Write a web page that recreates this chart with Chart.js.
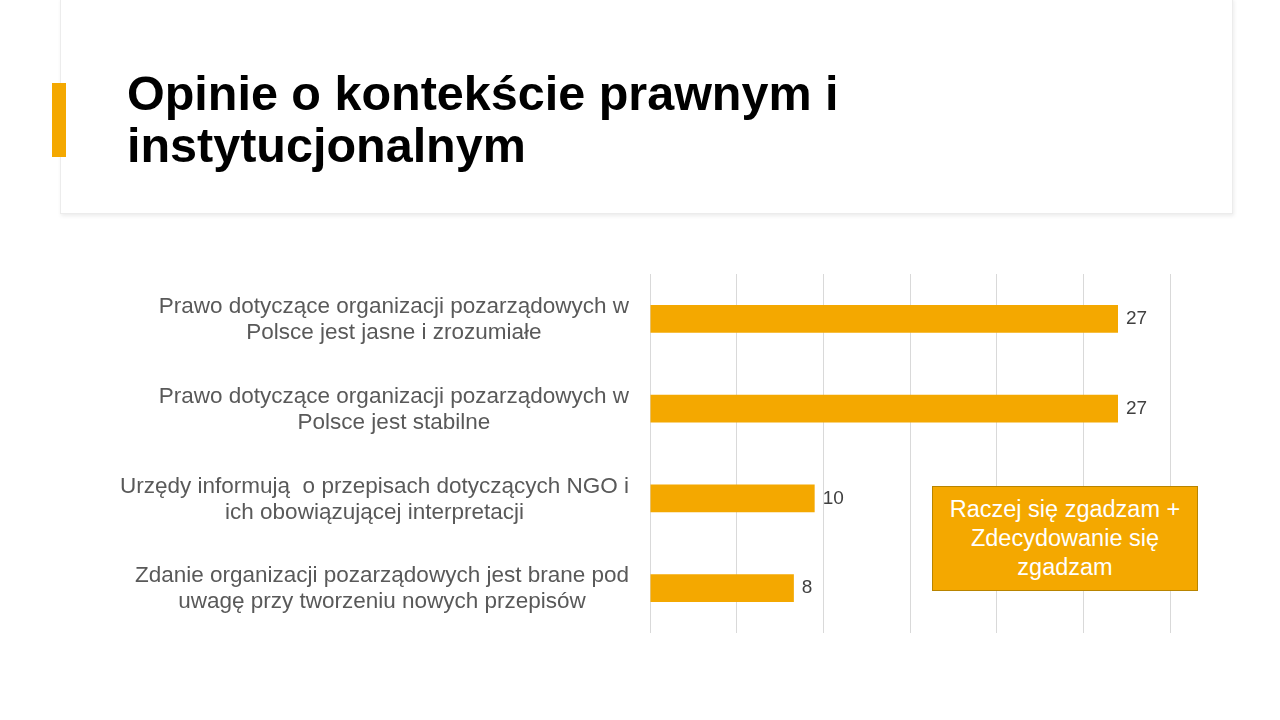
<!DOCTYPE html>
<html lang="pl">
<head>
<meta charset="utf-8">
<title>Opinie o kontekście prawnym i instytucjonalnym</title>
<script src="https://cdn.jsdelivr.net/npm/chart.js@4/dist/chart.umd.min.js"></script>
<style>
  html, body { margin: 0; padding: 0; background: #fff; }
  body { width: 1280px; height: 720px; position: relative; overflow: hidden; font-family: "Liberation Sans", Arial, sans-serif; }
  #header {
    position: absolute; left: 60px; top: -2px; width: 1171px; height: 214px;
    background: #fff; border: 1px solid #ececec;
    box-shadow: 1px 2px 4px rgba(0,0,0,0.08);
  }
  #accent { position: absolute; left: 52px; top: 83px; width: 14px; height: 74px; background: #F4A800; }
  #title {
    position: absolute; left: 127px; top: 67px; margin: 0;
    font: bold 48.5px/52px "Liberation Sans", Arial, sans-serif; color: #000;
  }
  #chartBox { position: absolute; left: 0; top: 230px; width: 1280px; height: 450px; }
  #note {
    position: absolute; left: 932px; top: 486px; width: 264px; height: 103px;
    background: #F4A800; border: 1px solid #B88400; box-sizing: content-box;
    color: #fff; font: 23.5px/29px "Liberation Sans", Arial, sans-serif; text-align: center;
    display: flex; align-items: center; justify-content: center;
  }
</style>
</head>
<body>
<div id="header"></div>
<div id="accent"></div>
<h1 id="title">Opinie o kontekście prawnym i<br>instytucjonalnym</h1>
<div id="chartBox"><canvas id="barChart"></canvas></div>
<div id="note">Raczej się zgadzam +<br>Zdecydowanie się<br>zgadzam</div>

<script>
// categories (each one split in the lines shown on the slide)
const categories = [
  ["Prawo dotyczące organizacji pozarządowych w", "Polsce jest jasne i zrozumiałe"],
  ["Prawo dotyczące organizacji pozarządowych w", "Polsce jest stabilne"],
  ["Urzędy informują  o przepisach dotyczących NGO i", "ich obowiązującej interpretacji"],
  ["Zdanie organizacji pozarządowych jest brane pod", "uwagę przy tworzeniu nowych przepisów"]
]
const values = [27, 27, 9.5, 8.3]
const valueLabels = ["27", "27", "10", "8"]
const xTicks = [0, 5, 10, 15, 20, 25, 30]

const orange = '#F4A800'

// draws the two-line category labels and the numbers next to the bars
const sideLabels = {
  id: 'sideLabels',
  afterDatasetsDraw(chart) {
    const ctx = chart.ctx
    const yScale = chart.scales.y
    const meta = chart.getDatasetMeta(0)
    ctx.save()
    ctx.font = '22.5px "Liberation Sans", Arial, sans-serif'
    ctx.fillStyle = '#595959'
    ctx.textAlign = 'center'
    ctx.textBaseline = 'middle'
    categories.forEach((lines, i) => {
      const cy = yScale.getPixelForValue(i) + 1
      const w = Math.max(...lines.map(l => ctx.measureText(l).width))
      const cx = chart.chartArea.left - 21 - w / 2
      lines.forEach((line, j) => {
        ctx.fillText(line, cx, cy + (j - (lines.length - 1) / 2) * 26)
      })
    })

    ctx.font = '19px "Liberation Sans", Arial, sans-serif'
    ctx.fillStyle = '#404040'
    ctx.textAlign = 'left'
    meta.data.forEach((bar, i) => {
      ctx.fillText(valueLabels[i], bar.x + 8, bar.y)
    })
    ctx.restore()
  }
}

const ctx = document.getElementById('barChart').getContext('2d')
new Chart(ctx, {
  type: 'bar',
  data: {
    labels: categories.map(c => c.join(' ')),
    datasets: [{
      data: values,
      backgroundColor: orange,
      borderWidth: 0,
      barPercentage: 0.31,
      categoryPercentage: 1
    }]
  },
  options: {
    indexAxis: 'y',
    responsive: true,
    maintainAspectRatio: false,
    animation: false,
    layout: { padding: { left: 650, right: 110, top: 44, bottom: 47 } },
    plugins: {
      legend: { display: false },
      tooltip: { enabled: false },
      title: { display: false }
    },
    scales: {
      x: {
        min: xTicks[0],
        max: xTicks[xTicks.length - 1],
        afterBuildTicks: axis => { axis.ticks = xTicks.map(v => ({ value: v })) },
        ticks: { display: false },
        grid: { color: '#d9d9d9', lineWidth: 1, drawTicks: false },
        border: { display: false }
      },
      y: {
        display: false
      }
    }
  },
  plugins: [sideLabels]
})
</script>
</body>
</html>
